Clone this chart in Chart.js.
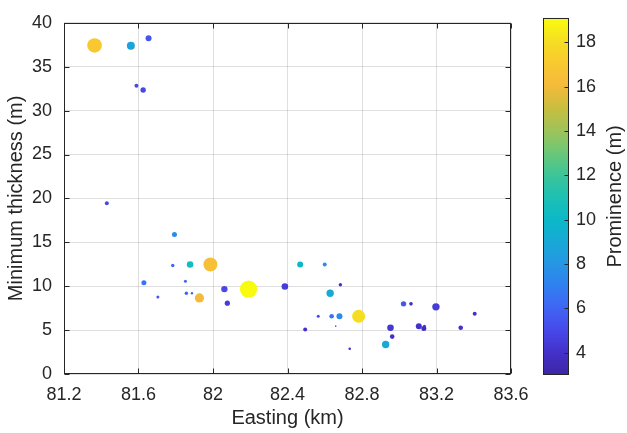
<!DOCTYPE html>
<html>
<head>
<meta charset="utf-8">
<script src="https://cdn.jsdelivr.net/npm/chart.js@4.4.1/dist/chart.umd.min.js"></script>
<style>
html, body { margin: 0; padding: 0; background: #fff; }
#wrap { position: relative; width: 627px; height: 433px; }
#mainCanvas { position: absolute; left: 0; top: 0; }
#barCanvas { position: absolute; left: 530px; top: 0; }
</style>
</head>
<body>
<div id="wrap">
    <canvas id="mainCanvas" width="627" height="433"></canvas>
    <canvas id="barCanvas" width="97" height="433"></canvas>
</div>
<script>
// Data
const easting = [
    81.364, 81.559, 81.654, 81.589, 81.625, 81.430, 81.793, 81.784, 81.877, 81.986,
    82.468, 81.629, 81.852, 82.061, 82.191, 82.386, 81.704, 81.857, 81.887, 81.927,
    82.077, 82.495, 82.600, 82.684, 82.629, 82.565, 82.637, 82.679, 82.782, 82.659,
    82.734, 83.023, 83.063, 83.197, 83.405, 82.953, 82.962, 82.927, 83.105, 83.132,
    83.135, 83.330
];
const minThickness = [
    37.42, 37.40, 38.24, 32.83, 32.35, 19.46, 15.88, 12.36, 12.47, 12.47,
    12.47, 10.39, 10.57, 9.67, 9.67, 9.97, 8.77, 9.19, 9.19, 8.66,
    8.07, 5.08, 12.47, 10.16, 9.19, 6.58, 6.58, 6.58, 6.58, 5.45,
    2.88, 7.99, 7.99, 7.65, 6.87, 5.27, 4.26, 3.36, 5.45, 5.19,
    5.45, 5.27
];
const prominence = [
    17.0, 8.7, 5.5, 5.0, 5.0, 5.0, 7.5, 6.0, 10.5, 16.5,
    10.0, 6.5, 6.0, 5.0, 19.1, 4.5, 5.5, 6.0, 6.0, 16.0,
    4.5, 4.0, 7.5, 4.0, 9.0, 5.0, 6.5, 7.5, 18.0, 5.0,
    4.0, 5.5, 3.8, 4.5, 4.0, 4.3, 4.0, 9.0, 4.0, 3.8,
    4.0, 4.0
];
const markerSize = [
    7.3, 4.0, 3.0, 2.0, 2.7, 2.0, 2.5, 1.7, 3.3, 7.0,
    3.0, 2.5, 1.5, 3.2, 8.7, 3.3, 1.5, 1.7, 1.2, 4.6,
    2.6, 2.0, 2.0, 1.7, 3.7, 1.5, 2.3, 3.0, 6.5, 0.8,
    1.3, 2.7, 1.8, 3.7, 2.0, 3.3, 2.3, 3.7, 3.0, 2.5,
    1.5, 2.3
];
const xTicks = [81.2, 81.6, 82.0, 82.4, 82.8, 83.2, 83.6];
const yTicks = [0, 5, 10, 15, 20, 25, 30, 35, 40];
const barTicks = [4, 6, 8, 10, 12, 14, 16, 18];
const cMin = 3.0;
const cMax = 19.1;

const textColor = '#262626';
const axisColor = '#262626';
const gridColor = 'rgba(38,38,38,0.15)';
const fontFamily = '"Liberation Sans", Arial, Helvetica, sans-serif';

// parula-like colormap, stops
const cmapStops = [
    [0.00, 60, 38, 165],
    [0.06, 67, 48, 200],
    [0.12, 71, 70, 232],
    [0.19, 64, 102, 245],
    [0.25, 48, 128, 240],
    [0.31, 38, 150, 228],
    [0.37, 25, 168, 216],
    [0.435, 10, 185, 200],
    [0.50, 30, 192, 178],
    [0.56, 60, 197, 152],
    [0.62, 105, 199, 120],
    [0.68, 155, 196, 92],
    [0.75, 202, 190, 62],
    [0.81, 245, 186, 60],
    [0.87, 248, 200, 48],
    [0.93, 245, 220, 36],
    [1.00, 249, 251, 14]
];

function colorFor(v) {
    let t = (v - cMin) / (cMax - cMin);
    t = Math.max(0, Math.min(1, t));
    for (let i = 1; i < cmapStops.length; i++) {
        const a = cmapStops[i - 1], b = cmapStops[i];
        if (t <= b[0]) {
            const f = (t - a[0]) / (b[0] - a[0]);
            const r = Math.round(a[1] + f * (b[1] - a[1]));
            const g = Math.round(a[2] + f * (b[2] - a[2]));
            const bl = Math.round(a[3] + f * (b[3] - a[3]));
            return `rgb(${r},${g},${bl})`;
        }
    }
    const l = cmapStops[cmapStops.length - 1];
    return `rgb(${l[1]},${l[2]},${l[3]})`;
}

Chart.defaults.font.family = fontFamily;
Chart.defaults.color = textColor;

const tickFont = { size: 18 };
const titleFont = { size: 20 };
const fmt = v => String(Math.round(v * 10) / 10);

// box round the axes with inward tick marks, as in the original
const boxTicks = {
    id: 'boxTicks',
    afterDraw(chart) {
        const { ctx, chartArea: a, scales: { x, y } } = chart;
        const L = Math.round(a.left) + 0.5, R = Math.round(a.right) - 0.5;
        const T = Math.round(a.top) + 0.5, B = Math.round(a.bottom) - 0.5;
        const len = 5;
        ctx.save();
        ctx.strokeStyle = axisColor;
        ctx.lineWidth = 1;
        ctx.beginPath();
        x.ticks.forEach(t => {
            const px = Math.round(x.getPixelForValue(t.value)) + 0.5;
            ctx.moveTo(px, B); ctx.lineTo(px, B - len);
            ctx.moveTo(px, T); ctx.lineTo(px, T + len);
        });
        y.ticks.forEach(t => {
            const py = Math.round(y.getPixelForValue(t.value)) + 0.5;
            ctx.moveTo(L, py); ctx.lineTo(L + len, py);
            ctx.moveTo(R, py); ctx.lineTo(R - len, py);
        });
        ctx.stroke();
        ctx.strokeRect(L, T, R - L, B - T);
        ctx.restore();
    }
};

new Chart(document.getElementById('mainCanvas'), {
    type: 'bubble',
    data: {
        datasets: [{
            data: easting.map((e, i) => ({ x: e, y: minThickness[i], r: markerSize[i] })),
            backgroundColor: prominence.map(colorFor),
            borderWidth: 0,
            hoverBorderWidth: 0
        }]
    },
    options: {
        responsive: false,
        animation: false,
        layout: { padding: { left: 0, top: 17, right: 116, bottom: 0 } },
        plugins: { legend: { display: false }, tooltip: { enabled: false } },
        scales: {
            x: {
                type: 'linear',
                min: 81.2,
                max: 83.6,
                afterBuildTicks(s) { s.ticks = xTicks.map(v => ({ value: v })); },
                afterFit(s) { s.height = 59; },
                grid: { color: gridColor, drawTicks: false },
                border: { display: false },
                ticks: { font: tickFont, color: textColor, padding: 10, maxRotation: 0, callback: fmt },
                title: { display: true, text: 'Easting (km)', font: titleFont, color: textColor, padding: { top: 0, bottom: 3 } }
            },
            y: {
                type: 'linear',
                min: 0,
                max: 40,
                afterBuildTicks(s) { s.ticks = yTicks.map(v => ({ value: v })); },
                afterFit(s) { s.width = 64; },
                grid: { color: gridColor, drawTicks: false },
                border: { display: false },
                ticks: { font: tickFont, color: textColor, padding: 12, callback: fmt },
                title: { display: true, text: 'Minimum thickness (m)', font: titleFont, color: textColor, padding: { top: 4, bottom: 0 } }
            }
        }
    },
    plugins: [boxTicks]
});

// colorbar: a single floating bar spanning the colour range
const barFrame = {
    id: 'barFrame',
    afterDraw(chart) {
        const { ctx, chartArea: a, scales: { y } } = chart;
        const L = Math.round(a.left) + 0.5, R = Math.round(a.right) - 0.5;
        const T = Math.round(a.top) + 0.5, B = Math.round(a.bottom) - 0.5;
        ctx.save();
        ctx.strokeStyle = axisColor;
        ctx.lineWidth = 1;
        ctx.beginPath();
        y.ticks.forEach(t => {
            const py = Math.round(y.getPixelForValue(t.value)) + 0.5;
            ctx.moveTo(R, py); ctx.lineTo(R - 4, py);
        });
        ctx.stroke();
        ctx.strokeRect(L, T, R - L, B - T);
        // colorbar label, reading upward
        ctx.translate(85, (a.top + a.bottom) / 2);
        ctx.rotate(-Math.PI / 2);
        ctx.fillStyle = textColor;
        ctx.font = `20px ${fontFamily}`;
        ctx.textAlign = 'center';
        ctx.textBaseline = 'middle';
        ctx.fillText('Prominence (m)', 0, 0);
        ctx.restore();
    }
};

new Chart(document.getElementById('barCanvas'), {
    type: 'bar',
    data: {
        labels: [''],
        datasets: [{
            data: [[cMin, cMax]],
            backgroundColor(c) {
                const ch = c.chart;
                const ys = ch.scales.y;
                if (!ch.chartArea || !ys) return colorFor(cMin);
                const g = ch.ctx.createLinearGradient(0, ys.getPixelForValue(cMin), 0, ys.getPixelForValue(cMax));
                for (let i = 0; i <= 40; i++) {
                    g.addColorStop(i / 40, colorFor(cMin + (i / 40) * (cMax - cMin)));
                }
                return g;
            },
            borderWidth: 0,
            borderSkipped: false,
            barPercentage: 1,
            categoryPercentage: 1
        }]
    },
    options: {
        responsive: false,
        animation: false,
        layout: { padding: { left: 13, top: 17, right: 0, bottom: 58 } },
        plugins: { legend: { display: false }, tooltip: { enabled: false } },
        scales: {
            x: { display: false },
            y: {
                position: 'right',
                min: cMin,
                max: cMax,
                afterBuildTicks(s) { s.ticks = barTicks.map(v => ({ value: v })); },
                afterFit(s) { s.width = 58; },
                grid: { display: false, drawTicks: false },
                border: { display: false },
                ticks: { font: tickFont, color: textColor, padding: 7, callback: fmt }
            }
        }
    },
    plugins: [barFrame]
});
</script>
</body>
</html>
